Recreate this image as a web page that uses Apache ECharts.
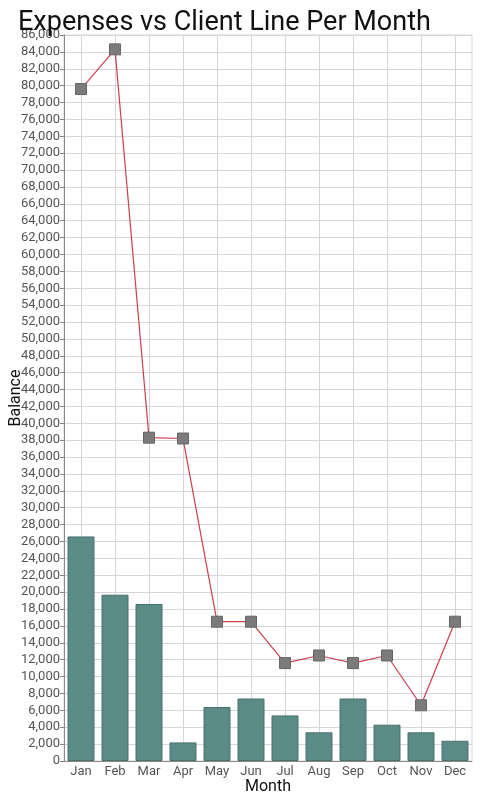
<!DOCTYPE html>
<html><head><meta charset="utf-8">
<script src="https://cdn.jsdelivr.net/npm/echarts@6/dist/echarts.min.js"></script>
<style>html,body{margin:0;padding:0;background:#fff}#c{width:480px;height:800px}</style>
</head><body><div id="c"></div>
<script>
var months = ['Jan','Feb','Mar','Apr','May','Jun','Jul','Aug','Sep','Oct','Nov','Dec'];
var expenses = [26600, 19700, 18600, 2200, 6400, 7400, 5400, 3400, 7400, 4300, 3400, 2400];
var clientLine = [79600, 84300, 38300, 38200, 16500, 16500, 11600, 12500, 11600, 12500, 6600, 16500];

var chart = echarts.init(document.getElementById('c'));
chart.setOption({
  animation: false,
  textStyle: {fontFamily: 'Roboto'},
  title: {
    text: 'Expenses vs Client Line Per Month',
    left: 13, top: 5,
    textStyle: {fontFamily: 'Roboto', fontSize: 27, fontWeight: 'normal', color: '#111'}
  },
  grid: {left: 64, right: 8, top: 35, bottom: 39, outerBoundsMode: 'none', containLabel: false,
    show: true, borderColor: '#d8d4dc', borderWidth: 1},
  xAxis: {
    type: 'category', data: months,
    name: 'Month', nameLocation: 'middle', nameGap: 18, nameMoveOverlap: false,
    nameTextStyle: {fontSize: 16, color: '#111', fontFamily: 'Roboto'},
    axisLine: {lineStyle: {color: '#888'}},
    axisTick: {show: false},
    axisLabel: {color: '#555', fontSize: 13, margin: 4, fontFamily: 'Roboto'},
    splitLine: {show: true, alignWithLabel: true, lineStyle: {color: '#d8d4dc', width: 1}}
  },
  yAxis: {
    type: 'value', min: 0, max: 86000, interval: 2000,
    name: 'Balance', nameLocation: 'middle', nameGap: 40, nameMoveOverlap: false,
    nameTextStyle: {fontSize: 16, color: '#111', fontFamily: 'Roboto'},
    axisLine: {show: true, lineStyle: {color: '#888'}},
    axisTick: {show: true, length: 4, lineStyle: {color: '#888'}},
    axisLabel: {color: '#555', fontSize: 13, margin: 4, fontFamily: 'Roboto',
      formatter: function (v) { return v.toLocaleString('en-US'); }},
    splitLine: {show: true, lineStyle: {color: '#d8d4dc', width: 1}}
  },
  series: [
    {
      type: 'bar', data: expenses, barWidth: 27,
      itemStyle: {color: '#5b8b87', borderColor: '#4a716e', borderWidth: 1}
    },
    {
      type: 'line', data: clientLine,
      symbol: 'rect', symbolSize: 11,
      lineStyle: {color: '#cc3f4c', width: 1.2},
      itemStyle: {color: '#7b7b7b', borderColor: '#666', borderWidth: 1}
    }
  ]
});
</script></body></html>
